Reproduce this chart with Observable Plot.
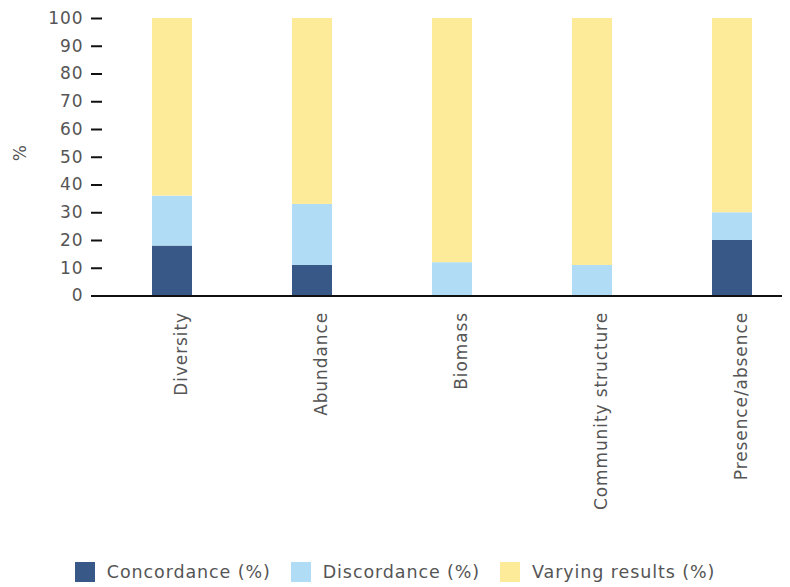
<!DOCTYPE html>
<html>
<head>
<meta charset="utf-8">
<script src="https://cdn.jsdelivr.net/npm/d3@7"></script>
<script src="https://cdn.jsdelivr.net/npm/@observablehq/plot@0.6"></script>
<style>
  body { margin: 0; background: #fff; font-family: "DejaVu Sans", sans-serif; }
  #chart svg { display: block; }
  #chart svg text { letter-spacing: 0.9px; }
  #legend { display: flex; justify-content: center; align-items: center; height: 42px; padding-top: 6px; font-size: 17.5px; color: #555; letter-spacing: 0.9px; }
  .item { display: flex; align-items: center; margin: 0 10px; }
  .sw { width: 20px; height: 20px; margin-right: 12px; }
</style>
</head>
<body>
<div id="chart"></div>
<div id="legend"></div>
<script>
const categories = ["Diversity", "Abundance", "Biomass", "Community structure", "Presence/absence"];
const series = ["Concordance (%)", "Discordance (%)", "Varying results (%)"];
const colors = ["#385988", "#b1dcf5", "#feeb9a"];
const concordance = [18, 11, 0, 0, 20];
const discordance = [18, 22, 12, 11, 10];
const varying = [64, 67, 88, 89, 70];
const yTicks = [0, 10, 20, 30, 40, 50, 60, 70, 80, 90, 100];

const values = [concordance, discordance, varying];
const data = [];
categories.forEach((c, i) => {
  series.forEach((s, j) => data.push({category: c, series: s, value: values[j][i]}));
});

const chart = Plot.plot({
  width: 790,
  height: 545,
  marginLeft: 102,
  marginRight: 8,
  marginTop: 18,
  marginBottom: 249.5,
  style: {fontSize: "17px", fontFamily: "DejaVu Sans, sans-serif", color: "#555", background: "#fff"},
  x: {domain: categories, range: [102, 802], paddingInner: 100/140, paddingOuter: 50/140, label: null},
  y: {domain: [0, 100], label: null},
  color: {domain: series, range: colors},
  marks: [
    Plot.barY(data, Plot.stackY({x: "category", y: "value", fill: "series", order: series})),
    Plot.axisY({ticks: yTicks, tickSize: 11, tickPadding: 8, line: true, stroke: "#111", strokeWidth: 2, fill: "#555", fontSize: 17, label: null}),
    Plot.axisX({tickSize: 0, tickRotate: -90, tickPadding: 16, dx: 9, fill: "#555", fontSize: 17, label: null}),
    Plot.ruleY([0], {stroke: "#111", strokeWidth: 2}),
    Plot.text(["%"], {frameAnchor: "left", dx: -82, dy: 4, rotate: -90, fill: "#555", fontSize: 17})
  ]
});
document.getElementById("chart").appendChild(chart);

const legend = document.getElementById("legend");
series.forEach((s, j) => {
  const item = document.createElement("div");
  item.className = "item";
  const sw = document.createElement("div");
  sw.className = "sw";
  sw.style.background = colors[j];
  const t = document.createElement("span");
  t.textContent = s;
  item.appendChild(sw);
  item.appendChild(t);
  legend.appendChild(item);
});
</script>
</body>
</html>
